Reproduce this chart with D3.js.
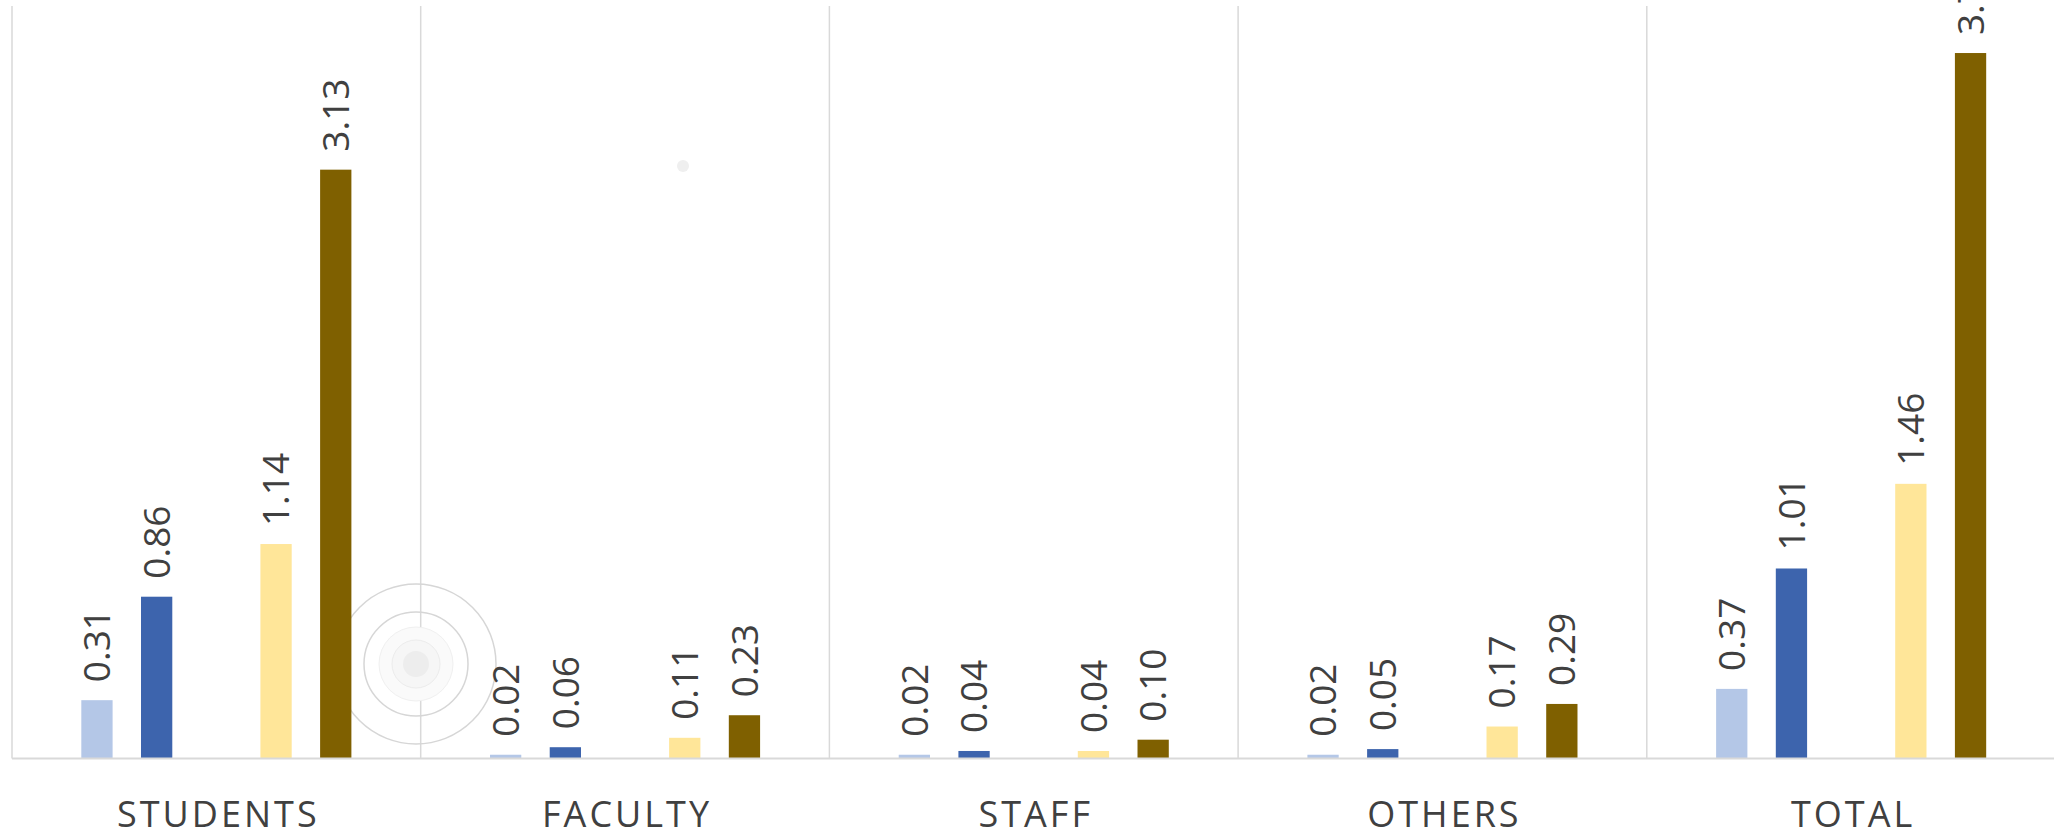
<!DOCTYPE html>
<html>
<head>
<meta charset="utf-8">
<script src="https://cdn.jsdelivr.net/npm/d3@7"></script>
<style>
  body { margin: 0; background: #fff; }
  svg { display: block; }
  .val { font-family: "Open Sans", sans-serif; font-size: 37px; fill: #404040; }
  .cat { font-family: "Open Sans", sans-serif; font-size: 36px; fill: #404040; letter-spacing: 3px; }
</style>
</head>
<body>
<script>
// chart data
var categories = ["STUDENTS", "FACULTY", "STAFF", "OTHERS", "TOTAL"];
var seriesNames = ["s1", "s2", "s3", "s4", "s5"];
var s1 = [0.31, 0.02, 0.02, 0.02, 0.37];
var s2 = [0.86, 0.06, 0.04, 0.05, 1.01];
var s3 = [null, null, null, null, null];   // empty series, leaves the gap
var s4 = [1.14, 0.11, 0.04, 0.17, 1.46];
var s5 = [3.13, 0.23, 0.10, 0.29, 3.75];
var colors = ["#B4C7E7", "#3D64AD", "#A5A5A5", "#FFE699", "#7F6000"];

var allSeries = [s1, s2, s3, s4, s5];

var width = 2054, height = 833;
var plotLeft = 12, plotTop = 6, baseY = 758.5;
var catW = 408.7;

var svg = d3.select("body").append("svg")
    .attr("width", width)
    .attr("height", height);

var x0 = d3.scaleBand()
    .domain(categories)
    .range([plotLeft, plotLeft + catW * categories.length])
    .padding(0);

var x1 = d3.scaleBand()
    .domain(seriesNames)
    .range([0, x0.bandwidth()])
    .paddingInner(0.476)
    .paddingOuter(1.161);

var y = d3.scaleLinear()
    .domain([0, 4])
    .range([baseY, plotTop]);

var color = d3.scaleOrdinal().domain(seriesNames).range(colors);

// vertical separators between categories
var seps = d3.range(categories.length + 1).map(function(i) { return plotLeft + i * catW; });
svg.selectAll(".sep")
    .data(seps)
    .enter().append("line")
    .attr("class", "sep")
    .attr("x1", function(d) { return d; })
    .attr("x2", function(d) { return d; })
    .attr("y1", plotTop)
    .attr("y2", baseY)
    .attr("stroke", "#D9D9D9")
    .attr("stroke-width", 1.5);

// click ripple and dot left over in the screenshot
var ripple = svg.append("g").attr("transform", "translate(416,664)");
ripple.append("circle").attr("r", 80).attr("fill", "none").attr("stroke", "#D6D6D6").attr("stroke-width", 1.5);
ripple.append("circle").attr("r", 52).attr("fill", "none").attr("stroke", "#D6D6D6").attr("stroke-width", 1.5);
ripple.append("circle").attr("r", 37).attr("fill", "#FAFAFA").attr("stroke", "#F0F0F0");
ripple.append("circle").attr("r", 24).attr("fill", "#F6F6F6").attr("stroke", "#ECECEC");
ripple.append("circle").attr("r", 13).attr("fill", "#EDEDED");
svg.append("circle").attr("cx", 683).attr("cy", 166).attr("r", 6).attr("fill", "#EFEFEF");

// flatten into rows for drawing
var rows = [];
categories.forEach(function(c, i) {
    seriesNames.forEach(function(s, j) {
        if (allSeries[j][i] != null) rows.push({cat: c, key: s, value: allSeries[j][i]});
    });
});

var g = svg.selectAll(".grp")
    .data(categories)
    .enter().append("g")
    .attr("class", "grp")
    .attr("transform", function(d) { return "translate(" + x0(d) + ",0)"; });

g.selectAll("rect")
    .data(function(c) { return rows.filter(function(r) { return r.cat == c; }); })
    .enter().append("rect")
    .attr("x", function(d) { return x1(d.key); })
    .attr("y", function(d) { return y(d.value); })
    .attr("width", x1.bandwidth())
    .attr("height", function(d) { return baseY - y(d.value); })
    .attr("fill", function(d) { return color(d.key); });

// rotated value labels
g.selectAll(".val")
    .data(function(c) { return rows.filter(function(r) { return r.cat == c; }); })
    .enter().append("text")
    .attr("class", "val")
    .attr("transform", function(d) {
        var cx = x1(d.key) + x1.bandwidth() / 2;
        return "translate(" + cx + "," + (y(d.value) - 18) + ") rotate(-90)";
    })
    .attr("dy", "0.36em")
    .attr("text-anchor", "start")
    .text(function(d) { return d3.format(".2f")(d.value); });

// baseline
svg.append("line")
    .attr("x1", plotLeft)
    .attr("x2", width)
    .attr("y1", baseY)
    .attr("y2", baseY)
    .attr("stroke", "#D9D9D9")
    .attr("stroke-width", 2);

// category labels
svg.selectAll(".cat")
    .data(categories)
    .enter().append("text")
    .attr("class", "cat")
    .attr("x", function(d) { return x0(d) + x0.bandwidth() / 2 + 2; })
    .attr("y", 827)
    .attr("text-anchor", "middle")
    .text(function(d) { return d; });
</script>
</body>
</html>
